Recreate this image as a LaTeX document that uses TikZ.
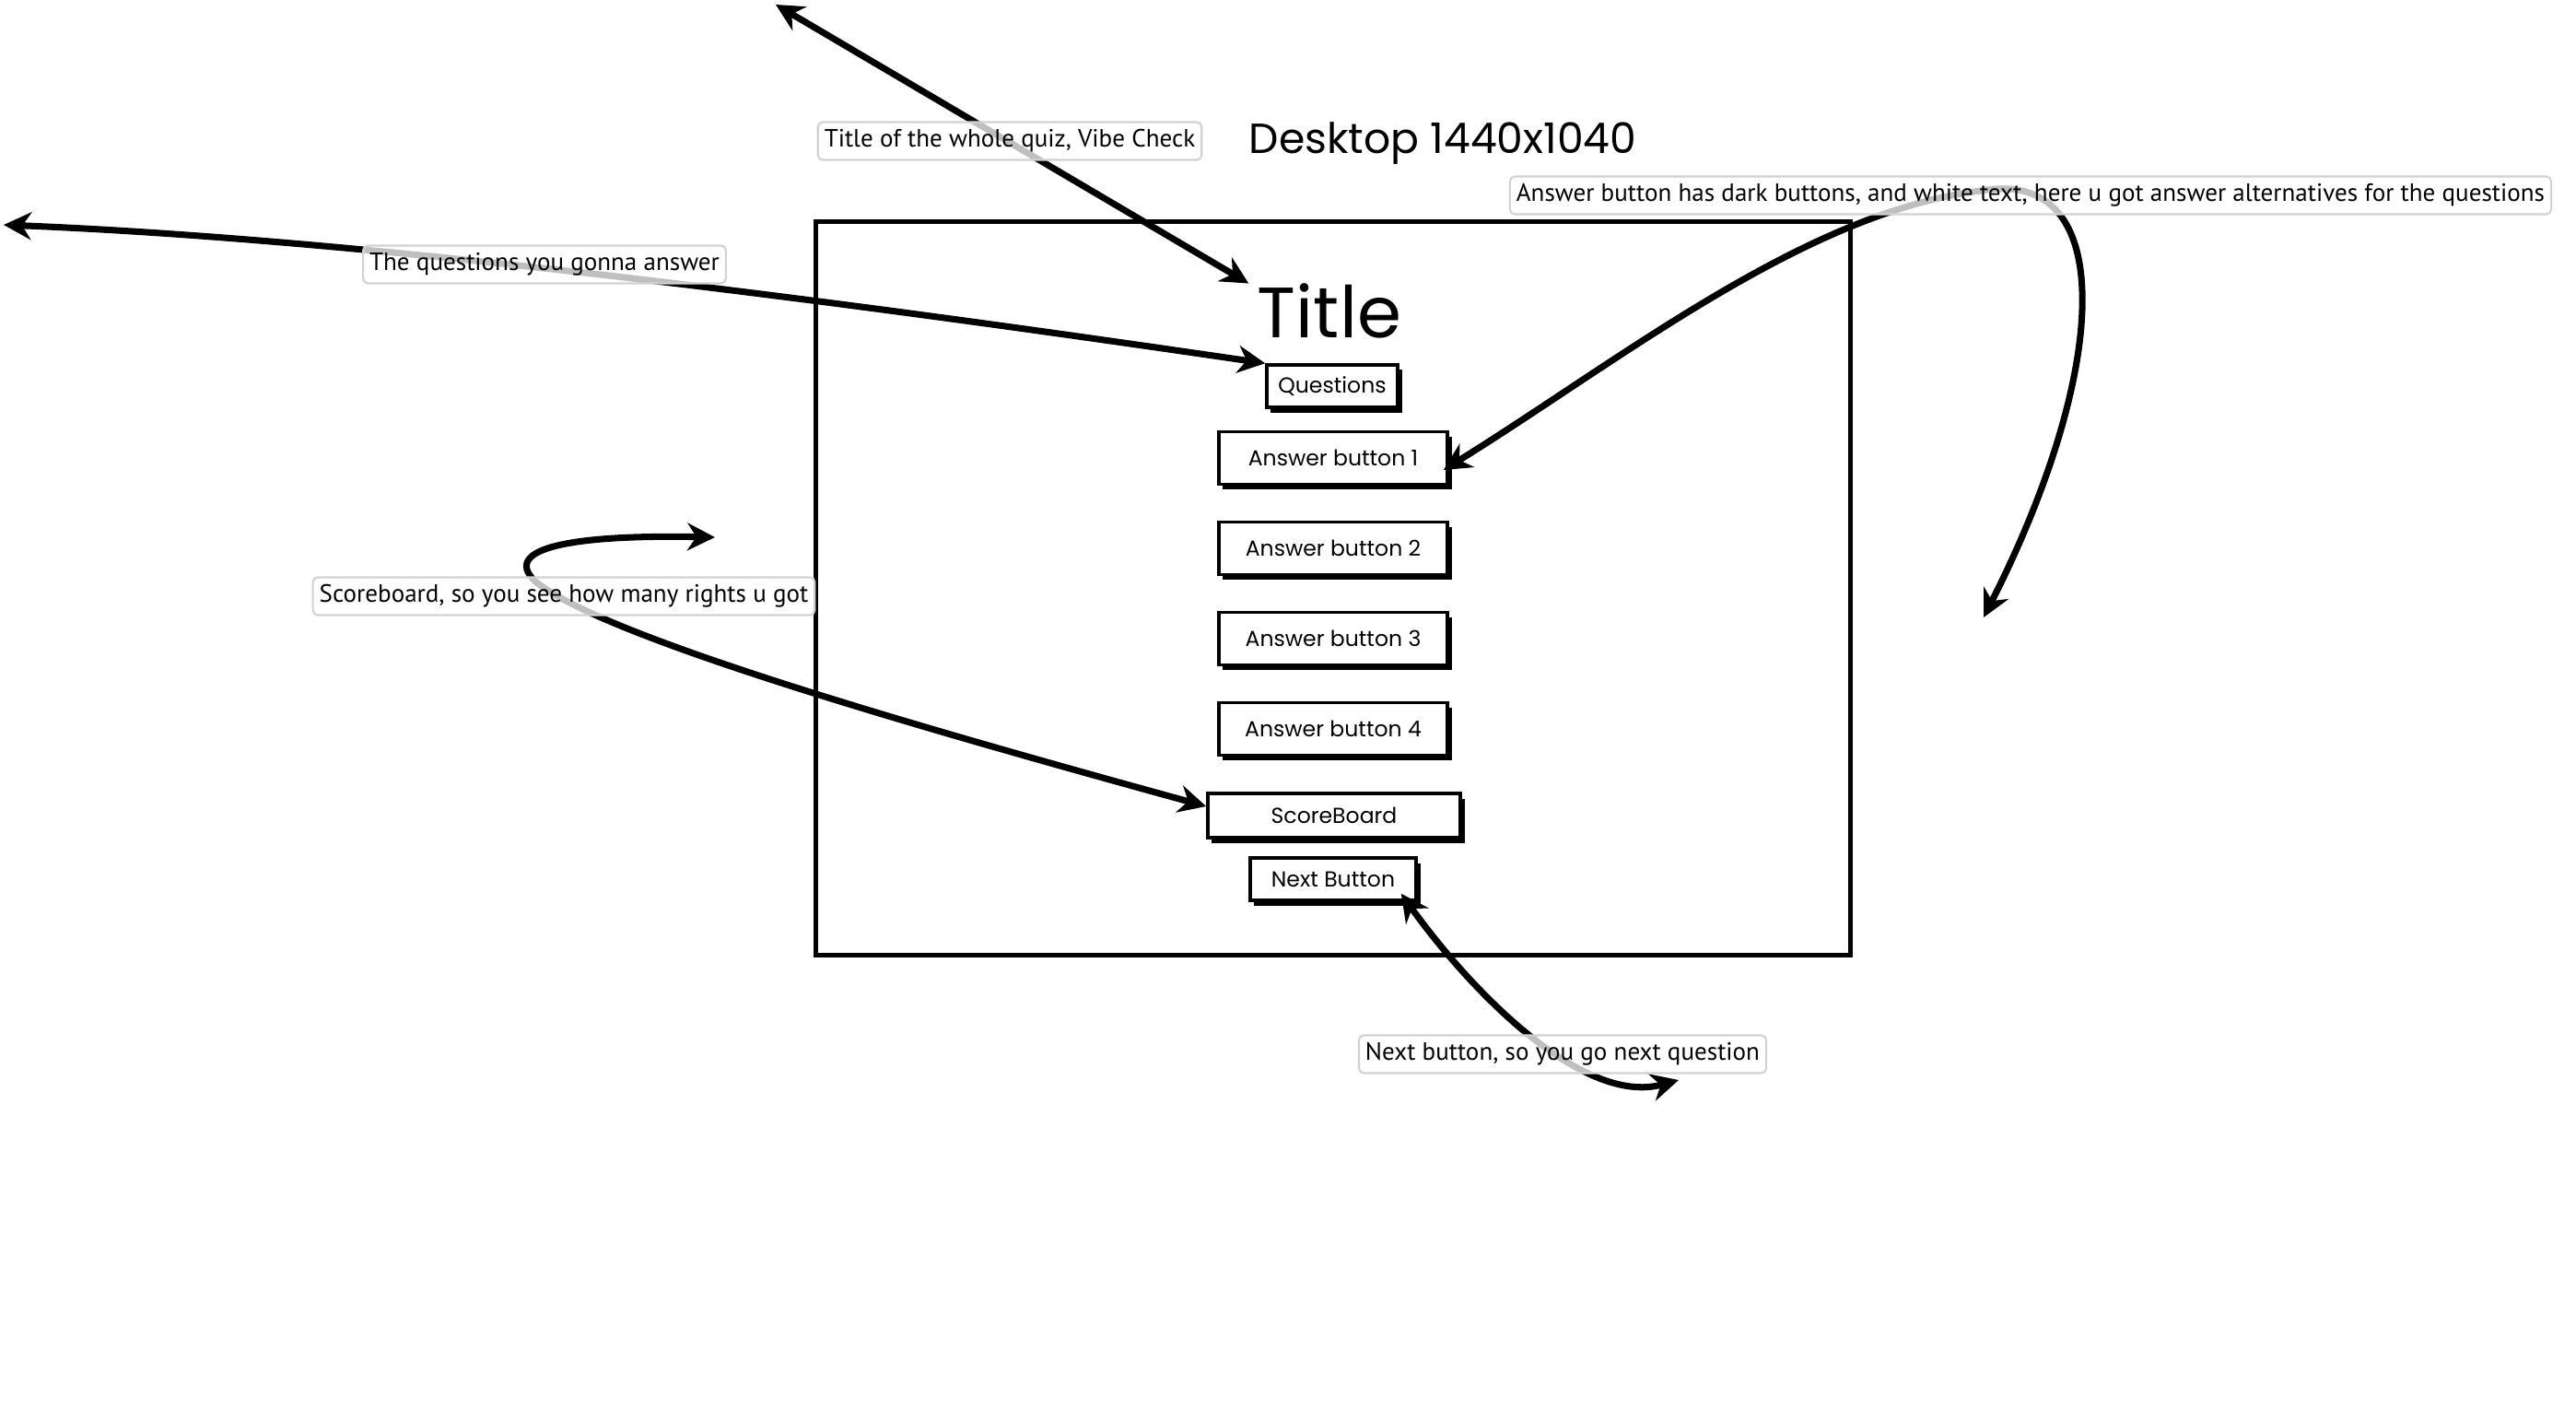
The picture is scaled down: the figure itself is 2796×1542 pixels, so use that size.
\documentclass[tikz,border=0pt]{standalone}
\usepackage{fontspec}
\usepackage{tikz}
\usetikzlibrary{calc,arrows.meta,shadows}
\setmainfont{Poppins}
\newfontfamily\notefont{PT Sans}
\definecolor{notegray}{HTML}{D2D2D2}

\tikzset{
  uibtn/.style={draw, line width=1pt, fill=white, inner sep=0pt,
    font=\fontsize{6.7}{7.5}\selectfont,
    drop shadow={opacity=1, fill=black, shadow xshift=0.045cm, shadow yshift=-0.055cm}},
  note/.style={draw=notegray, line width=0.6pt, rounded corners=1.5pt,
    fill=white, fill opacity=0.75, text opacity=1, inner xsep=0.07cm,
    inner ysep=0pt, minimum height=0.41cm, font=\notefont\fontsize{7.7}{8.5}\selectfont},
  pointer/.style={line width=2pt, line cap=round,
    {Stealth[length=8.5pt,width=8.5pt]}-{Stealth[length=8.5pt,width=8.5pt]}},
}

\begin{document}
\begin{tikzpicture}[x=0.01cm, y=-0.01cm]
    \fill[white] (0,0) rectangle (2796,1542);
    \useasboundingbox (0,0) rectangle (2796,1542);

    % the desktop frame
    \node[font=\fontsize{13}{15}\selectfont] (dtitle) at (1566,156) {Desktop 1440x1040};
    \node[draw, line width=1.3pt, minimum width=11.22cm, minimum height=7.95cm] (screen) at (1447,638.5) {};
    \node[font=\fontsize{22}{24}\selectfont, inner sep=0pt] (title) at (1443,337) {Title};
    \node[uibtn, minimum width=1.42cm, minimum height=0.46cm] (qbtn) at (1446,419) {Questions};
    \foreach \i/\y in {1/497,2/595,3/693,4/791}
      \node[uibtn, minimum width=2.48cm, minimum height=0.57cm] (ans\i) at (1447,\y) {Answer button \i};
    \node[uibtn, minimum width=2.74cm, minimum height=0.48cm] (score) at (1448,885) {ScoreBoard};
    \node[uibtn, minimum width=1.80cm, minimum height=0.46cm] (next) at (1447,954) {Next Button};

    % loose ends of the pointers
    \coordinate (titleend) at (842,5);
    \coordinate (qend) at (4,244);
    \coordinate (anstop) at (2150,207);
    \coordinate (ansend) at (2153,670);
    \coordinate (scorebend) at (580,630);
    \coordinate (scoreend) at (776,583);
    \coordinate (nextend) at (1822,1172);

    \draw[pointer] (titleend) -- ($(title.north west)+(-9,1)$);
    \draw[pointer] (qend) .. controls (400,260) and (900,325) .. (qbtn.north west);
    \draw[pointer] ($(ans1.east)+(-6,13)$) .. controls (1760,390) and (1960,230) .. (anstop)
      .. controls (2300,180) and (2290,400) .. (ansend);
    \draw[pointer] (scoreend) .. controls (620,580) and (545,595) .. (scorebend)
      .. controls (650,690) and (1000,790) .. ($(score.west)+(0,-10)$);
    \draw[pointer] ($(next.south east)+(-18,-9)$) .. controls (1600,1080) and (1720,1200) .. (nextend);

    % notes
    \node[note] (lbltitle) at (1096,153) {Title of the whole quiz, Vibe Check};
    \node[note] (lblans) at (2204,212) {Answer button has dark buttons, and white text, here u got answer alternatives for the questions};
    \node[note] (lblq) at (591,287) {The questions you gonna answer};
    \node[note] (lblscore) at (612,647) {Scoreboard, so you see how many rights u got};
    \node[note] (lblnext) at (1696,1144) {Next button, so you go next question};
  \end{tikzpicture}
\end{document}
